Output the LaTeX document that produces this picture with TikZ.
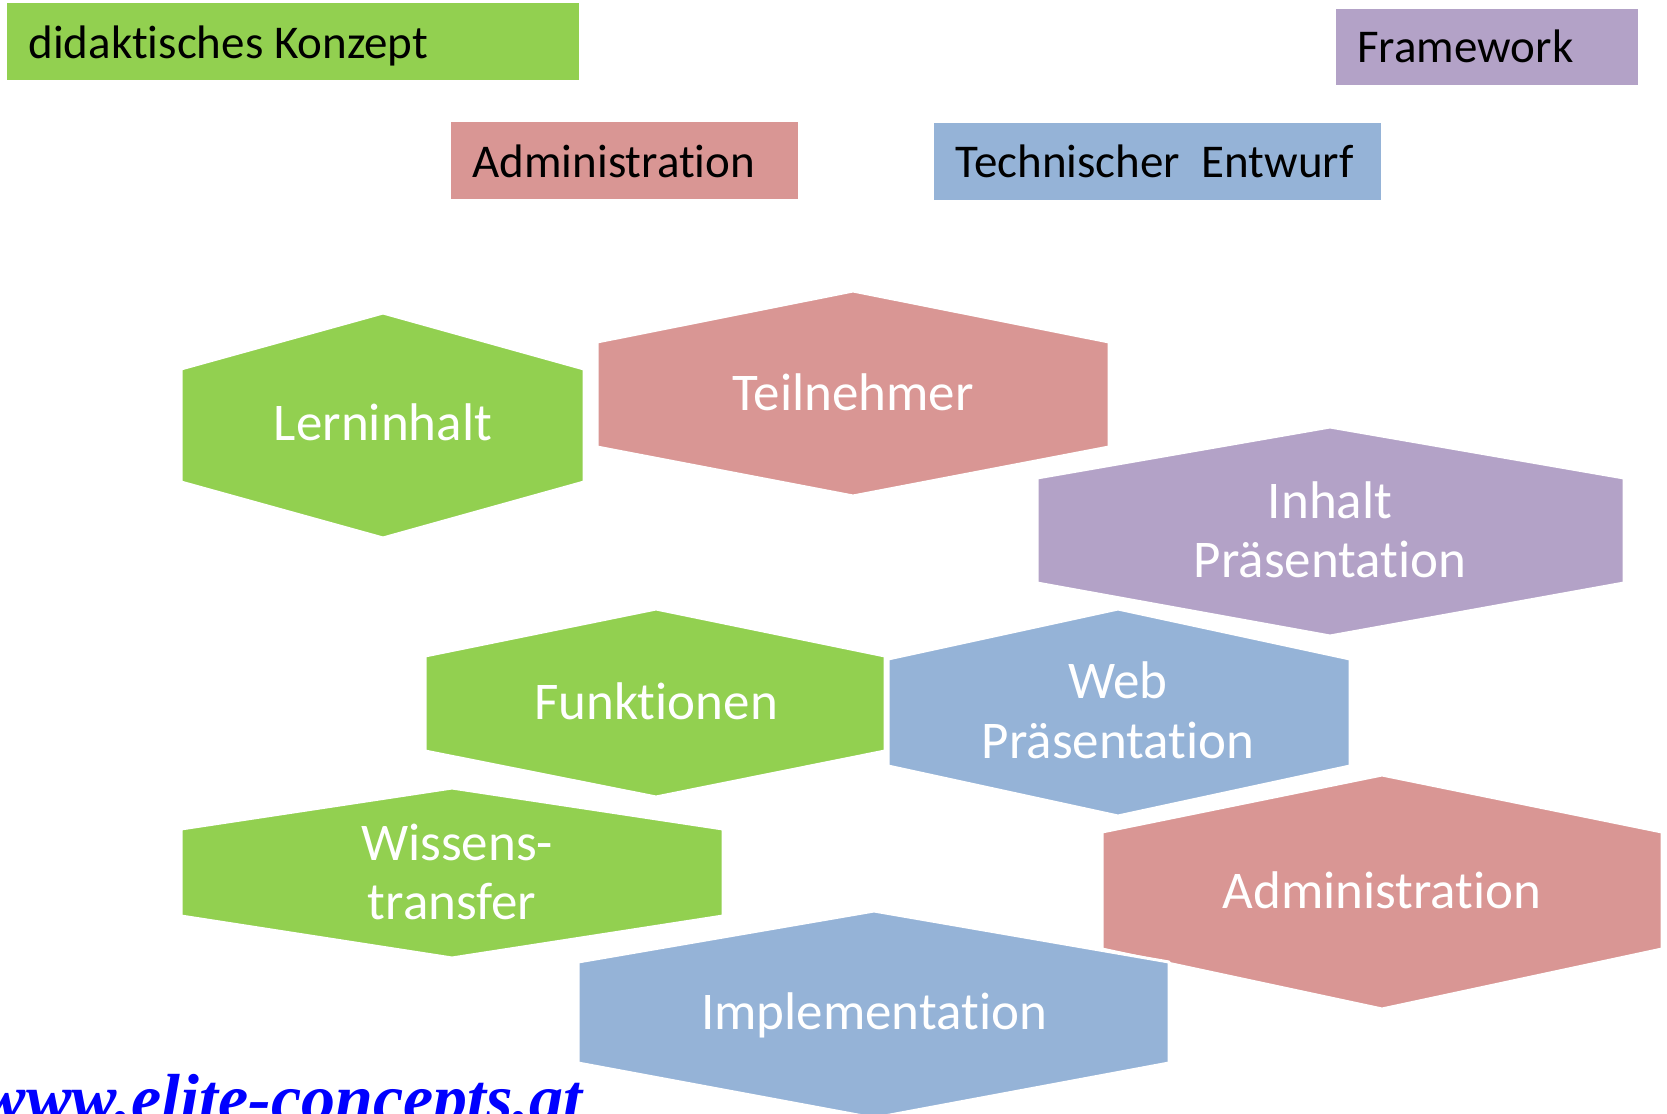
\documentclass[tikz,border=0pt]{standalone}
\usepackage{fontspec}
\setmainfont{Carlito}[RawFeature={-liga;-clig;-dlig}]
\newfontfamily\urlfont{Liberation Serif}
\definecolor{cgreen}{HTML}{92D050}
\definecolor{cpink}{HTML}{D99694}
\definecolor{cblue}{HTML}{95B3D7}
\definecolor{cpurple}{HTML}{B3A2C7}
\definecolor{curl}{HTML}{0000FF}
\tikzset{
  legendbox/.style={draw=none},
  legendtext/.style={anchor=base west, inner sep=0pt, text=black, font=\fontsize{23.5}{28}\selectfont},
  hexshape/.style={draw=white, line width=1.5pt, line join=round},
  hextext/.style={anchor=base, inner sep=0pt, text=white, font=\fontsize{26.5}{30}\selectfont},
  urltext/.style={anchor=base east, inner sep=0pt, text=curl, font=\urlfont\bfseries\itshape\fontsize{34}{40}\selectfont}
}
\begin{document}
\begin{tikzpicture}[x=0.5pt,y=-0.5pt]
\useasboundingbox (0,0) rectangle (1667,1114);
% legend
\fill[cgreen] (7,3) rectangle (579,80);
\node[legendtext] (lgreen) at (28,58) {didaktisches Konzept};
\fill[cpurple] (1336,9) rectangle (1638,85);
\node[legendtext] (lpurple) at (1357,62) {Framework};
\fill[cpink] (451,122) rectangle (798,199);
\node[legendtext] (lpink) at (472,177) {Administration};
\fill[cblue] (934,123) rectangle (1381,200);
\node[legendtext] (lblue) at (955,177) {Technischer\ \ Entwurf};
% hexagons
\filldraw[hexshape, fill=cgreen] (181,369) -- (383,313) -- (584,369) -- (584,482) -- (383,538) -- (181,482) -- cycle;
\node[hextext] (lern) at (383,440) {Lerninhalt};
\filldraw[hexshape, fill=cpink] (597,342) -- (853,291) -- (1109,342) -- (1109,447) -- (853,496) -- (597,447) -- cycle;
\node[hextext] (teil) at (853,410) {Teilnehmer};
\filldraw[hexshape, fill=cpurple] (1037,478) -- (1330,427) -- (1624,478) -- (1624,583) -- (1330,636) -- (1037,583) -- cycle;
\node[hextext] (inh1) at (1330,518) {Inhalt};
\node[hextext] (inh2) at (1330,577) {Präsentation};
\filldraw[hexshape, fill=cgreen] (425,656) -- (656,609) -- (885,656) -- (885,751) -- (656,797) -- (425,751) -- cycle;
\node[hextext] (funk) at (656,719) {Funktionen};
\filldraw[hexshape, fill=cblue] (888,659) -- (1118,609) -- (1350,659) -- (1350,766) -- (1118,816) -- (888,766) -- cycle;
\node[hextext] (web1) at (1118,698) {Web};
\node[hextext] (web2) at (1118,758) {Präsentation};
\filldraw[hexshape, fill=cgreen] (181,829) -- (452,788) -- (723,829) -- (723,916) -- (452,958) -- (181,916) -- cycle;
\node[hextext] (wiss1) at (457,860) {Wissens-};
\node[hextext] (wiss2) at (452,919) {transfer};
\filldraw[hexshape, fill=cpink] (1102,832) -- (1382,775) -- (1662,832) -- (1662,949) -- (1382,1009) -- (1102,949) -- cycle;
\node[hextext] (admin) at (1382,908) {Administration};
\filldraw[hexshape, fill=cblue] (578,962) -- (874,911) -- (1169,962) -- (1169,1063) -- (874,1118) -- (578,1063) -- cycle;
\node[hextext] (impl) at (874,1029) {Implementation};
% url
\node[urltext] (url) at (583,1121) {www.elite-concepts.at};
\end{tikzpicture}
\end{document}
